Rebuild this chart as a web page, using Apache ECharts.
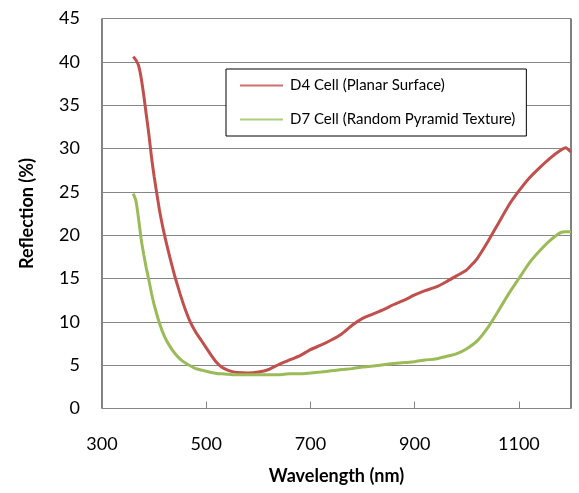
<!DOCTYPE html>
<html>
<head>
<meta charset="utf-8">
<script src="https://cdn.jsdelivr.net/npm/echarts@6/dist/echarts.min.js"></script>
<style>html,body{margin:0;padding:0;background:#fff;}#c{width:579px;height:493px;}</style>
</head>
<body>
<div id="c"></div>
<script>
const wavelengths = [360,365,370,375,380,385,390,395,400,410,420,430,440,450,460,470,480,490,500,510,520,530,540,550,560,580,600,620,640,660,680,700,720,740,760,780,800,820,840,860,880,900,920,940,960,980,1000,1020,1040,1060,1080,1100,1120,1140,1160,1180,1190,1200];
const d4Planar = [40.6,40.2,39.6,38.2,36.2,33.9,31.6,29.0,26.8,23.0,20.0,17.5,15.2,13.2,11.4,9.9,8.8,7.9,7.0,6.1,5.3,4.75,4.45,4.25,4.15,4.1,4.2,4.5,5.1,5.6,6.1,6.8,7.3,7.9,8.6,9.6,10.4,10.9,11.4,12.0,12.5,13.1,13.6,14.0,14.6,15.3,16.0,17.3,19.2,21.3,23.4,25.1,26.6,27.8,28.9,29.8,30.1,29.6];
const d7Pyramid = [24.8,24.0,22.0,19.6,17.8,16.2,14.8,13.3,12.0,9.9,8.3,7.2,6.35,5.7,5.25,4.9,4.6,4.45,4.3,4.15,4.05,4.0,3.95,3.9,3.9,3.9,3.9,3.9,3.9,4.0,4.0,4.1,4.2,4.35,4.5,4.6,4.8,4.9,5.05,5.2,5.3,5.4,5.6,5.7,6.0,6.3,6.9,7.8,9.3,11.2,13.2,15.0,16.8,18.2,19.4,20.3,20.4,20.4];
const xTicks = [300,500,700,900,1100];
const seriesNames = ['D4 Cell (Planar Surface)','D7 Cell (Random Pyramid Texture)'];

const font = 'Lato, "Open Sans", sans-serif';
const chart = echarts.init(document.getElementById('c'), null, {renderer:'canvas'});
chart.setOption({
  animation: false,
  backgroundColor: '#fff',
  grid: {left: 102, right: 8, top: 18.5, bottom: 84.5, show: true, borderColor: '#000', borderWidth: 1, backgroundColor: 'transparent'},
  legend: {
    orient: 'vertical', left: 226, top: 69,
    backgroundColor: '#fff',
    borderColor: '#000', borderWidth: 1,
    padding: [9, 11, 9, 14],
    itemGap: 19,
    itemWidth: 43, itemHeight: 2,
    icon: 'rect',
    textStyle: {fontFamily: font, fontSize: 15, color: '#000', padding: [0,0,0,2]},
    data: seriesNames
  },
  xAxis: {
    type: 'value', min: 300, max: 1200,
    name: 'Wavelength (nm)', nameLocation: 'middle', nameGap: 59,
    nameTextStyle: {fontFamily: font, fontSize: 18, fontWeight: 'bold', color: '#000'},
    axisLine: {show: true, lineStyle: {color: '#868686', width: 1}},
    axisTick: {show: true, inside: true, length: 7, lineStyle: {color: '#868686'}, customValues: xTicks},
    axisLabel: {fontFamily: font, fontSize: 18, color: '#000', margin: 27, customValues: xTicks, formatter: v => String(v)},
    splitLine: {show: false}
  },
  yAxis: {
    type: 'value', min: 0, max: 45, interval: 5,
    name: 'Reflection (%)', nameLocation: 'middle', nameGap: 66, nameRotate: 90,
    nameTextStyle: {fontFamily: font, fontSize: 18, fontWeight: 'bold', color: '#000'},
    axisLine: {show: true, lineStyle: {color: '#868686', width: 1}},
    axisTick: {show: false},
    axisLabel: {fontFamily: font, fontSize: 18, color: '#000', margin: 22},
    splitLine: {show: true, lineStyle: {color: '#868686', width: 1}}
  },
  series: [
    {name: seriesNames[0], type: 'line', data: wavelengths.map((w,i)=>[w,d4Planar[i]]), showSymbol: false, smooth: 0.15,
     lineStyle: {color: '#C0504D', width: 3}, itemStyle: {color: '#D07070'}},
    {name: seriesNames[1], type: 'line', data: wavelengths.map((w,i)=>[w,d7Pyramid[i]]), showSymbol: false, smooth: 0.15,
     lineStyle: {color: '#9BBB59', width: 3}, itemStyle: {color: '#B0CC80'}}
  ]
});
</script>
</body>
</html>
